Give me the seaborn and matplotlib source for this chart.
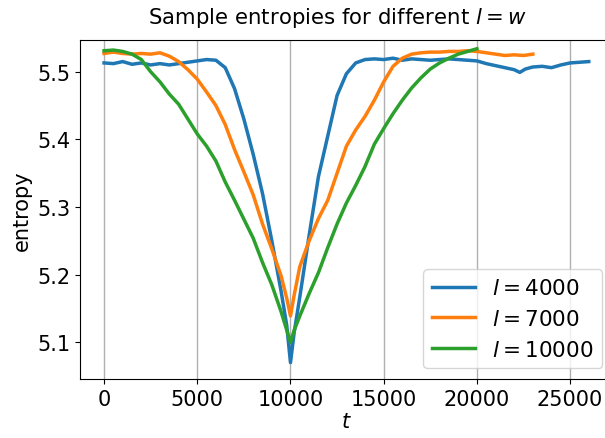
import matplotlib
matplotlib.use("Agg")
import matplotlib.pyplot as plt
import seaborn as sns
import pandas as pd

# ---- data ----
t_4000 = [0, 500, 1000, 1500, 2000, 2500, 3000, 3500, 4000, 4500, 5000, 5500, 6000, 6500,
          7000, 7500, 8000, 8500, 9000, 9500, 9800, 10000, 10200, 10500, 11000, 11500,
          12000, 12500, 13000, 13500, 14000, 14500, 15000, 15500, 16000, 16500, 17000,
          17500, 18000, 18500, 19000, 19500, 20000, 20500, 21000, 21500, 22000, 22300,
          22600, 23000, 23500, 24000, 24500, 25000, 25500, 26000]
e_4000 = [5.513, 5.512, 5.515, 5.511, 5.513, 5.510, 5.512, 5.510, 5.512, 5.514, 5.516, 5.518,
          5.517, 5.506, 5.475, 5.430, 5.378, 5.320, 5.250, 5.175, 5.125, 5.070, 5.115, 5.167,
          5.258, 5.345, 5.405, 5.465, 5.497, 5.513, 5.518, 5.519, 5.518, 5.520, 5.517, 5.519,
          5.518, 5.517, 5.518, 5.519, 5.518, 5.517, 5.516, 5.512, 5.509, 5.506, 5.503, 5.499,
          5.504, 5.507, 5.508, 5.506, 5.510, 5.513, 5.514, 5.515]

t_7000 = [0, 500, 1000, 1500, 2000, 2500, 3000, 3500, 4000, 4500, 5000, 5500, 6000, 6500,
          7000, 7500, 8000, 8500, 9000, 9500, 9800, 10000, 10200, 10500, 11000, 11500,
          12000, 12500, 13000, 13500, 14000, 14500, 15000, 15500, 16000, 16500, 17000,
          17500, 18000, 18500, 19000, 19500, 20000, 20500, 21000, 21500, 22000, 22500, 23000]
e_7000 = [5.527, 5.529, 5.527, 5.526, 5.527, 5.526, 5.528, 5.523, 5.515, 5.503, 5.489, 5.470,
          5.450, 5.422, 5.385, 5.352, 5.318, 5.275, 5.238, 5.198, 5.165, 5.139, 5.170, 5.212,
          5.250, 5.283, 5.310, 5.350, 5.390, 5.414, 5.434, 5.458, 5.485, 5.508, 5.520, 5.526,
          5.528, 5.529, 5.529, 5.530, 5.530, 5.531, 5.530, 5.528, 5.526, 5.524, 5.525, 5.524,
          5.526]

t_10000 = [0, 500, 1000, 1500, 2000, 2500, 3000, 3500, 4000, 4500, 5000, 5500, 6000, 6500,
           7000, 7500, 8000, 8500, 9000, 9500, 9800, 10000, 10200, 10500, 11000, 11500,
           12000, 12500, 13000, 13500, 14000, 14500, 15000, 15500, 16000, 16500, 17000,
           17500, 18000, 18500, 19000, 19500, 20000]
e_10000 = [5.531, 5.532, 5.530, 5.526, 5.518, 5.500, 5.485, 5.467, 5.452, 5.430, 5.408, 5.390,
           5.368, 5.337, 5.310, 5.282, 5.254, 5.218, 5.185, 5.145, 5.118, 5.100, 5.118, 5.139,
           5.172, 5.203, 5.240, 5.275, 5.306, 5.332, 5.360, 5.393, 5.416, 5.438, 5.458, 5.476,
           5.491, 5.504, 5.513, 5.520, 5.526, 5.530, 5.534]

labels = ["$l = 4000$", "$l = 7000$", "$l = 10000$"]
x_ticks = [0, 5000, 10000, 15000, 20000, 25000]
y_ticks = [5.1, 5.2, 5.3, 5.4, 5.5]

frames = []
for lab, t, e in zip(labels, [t_4000, t_7000, t_10000], [e_4000, e_7000, e_10000]):
    frames.append(pd.DataFrame({"t": t, "entropy": e, "series": lab}))
df = pd.concat(frames, ignore_index=True)

# ---- figure ----
plt.rcParams['font.family'] = ['DejaVu Sans']
W, H = 605, 439
fig = plt.figure(figsize=(W / 100, H / 100), dpi=100)
ax = fig.add_axes([80 / W, (H - 380) / H, (613 - 80) / W, (380 - 41) / H])

sns.lineplot(data=df, x="t", y="entropy", hue="series", hue_order=labels,
             palette=["#1f77b4", "#ff7f0e", "#2ca02c"], linewidth=2.5, ax=ax,
             estimator=None, sort=False)

ax.set_xlim(-1290, 27300)
ax.set_ylim(5.0458, 5.5469)
ax.set_xticks(x_ticks)
ax.set_yticks(y_ticks)
ax.set_yticklabels([f"{v:.1f}" for v in y_ticks])
ax.tick_params(labelsize=15)
ax.xaxis.grid(True, color="#b0b0b0", linewidth=1.0)
ax.yaxis.grid(False)
ax.set_axisbelow(True)
ax.set_xlabel("$t$", fontsize=15, labelpad=2)
ax.set_ylabel("entropy", fontsize=15)
ax.set_title("Sample entropies for different $l = w$", fontsize=15.3, pad=12, x=0.482)
ax.legend(loc="lower right", fontsize=15.5, title=None)

fig.savefig("out.png", dpi=100)
